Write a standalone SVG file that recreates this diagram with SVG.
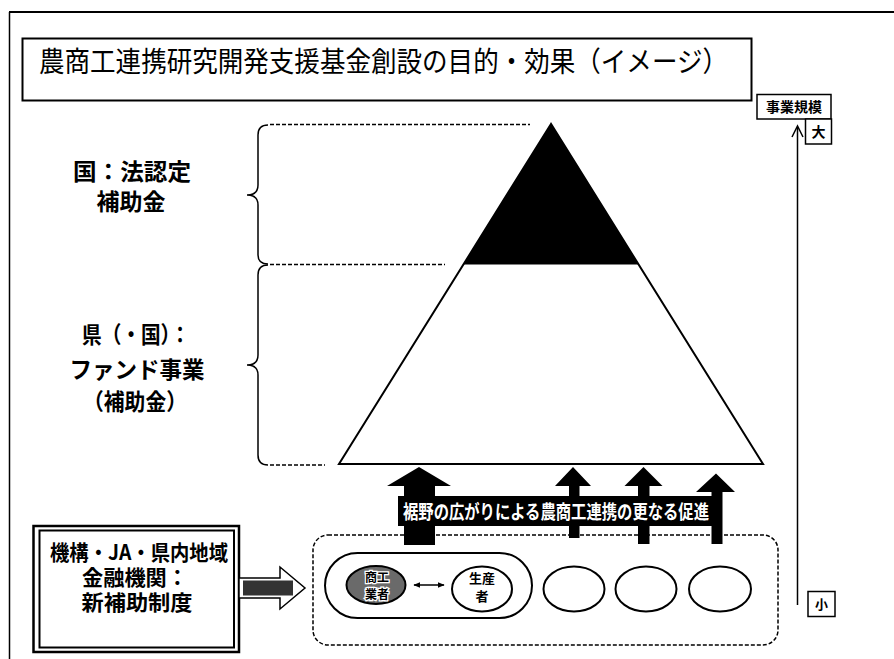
<svg xmlns="http://www.w3.org/2000/svg" width="894" height="659" viewBox="0 0 894 659">
<defs>
<style>
.t{font-family:"Noto Sans CJK JP","Noto Sans",sans-serif;fill:#000}
.b{font-weight:bold}
.ln{fill:none;stroke:#000}
.dash{fill:none;stroke:#000;stroke-width:1.5;stroke-dasharray:4 2}
.up{fill:#000;stroke:none}
</style>
<marker id="ah" viewBox="0 0 10 10" refX="9" refY="5" markerWidth="7" markerHeight="7" orient="auto-start-reverse" markerUnits="userSpaceOnUse">
<path d="M0,1 L10,5 L0,9 Z" fill="#000"/>
</marker>
</defs>
<rect width="894" height="659" fill="#fff"/>

<g id="frame">
<path class="ln" d="M9,12 H894" stroke-width="2"/>
<path class="ln" d="M9.5,12 V659" stroke-width="1.5"/>
</g>

<g id="title">
<rect x="22.5" y="38.5" width="729" height="62" fill="#fff" stroke="#000" stroke-width="2"/>
<text class="t" x="39" y="72" font-size="28" textLength="689" lengthAdjust="spacingAndGlyphs">農商工連携研究開発支援基金創設の目的・効果（イメージ）</text>
</g>

<g id="braces">
<path class="ln" stroke-width="1.5" d="M268,125 Q258,125 258,135 L258,185 Q258,195 247,195 Q258,195 258,205 L258,255 Q258,264 268,264"/>
<path class="ln" stroke-width="1.5" d="M268,265 Q258,265 258,275 L258,355 Q258,365 247,365 Q258,365 258,375 L258,455 Q258,465 268,465"/>
<path class="dash" d="M270,124.5 H530"/>
<path class="dash" d="M270,264.5 H445"/>
<path class="dash" d="M270,465 H325"/>
</g>

<g id="label-kuni">
<text class="t b" x="132" y="180" font-size="23" text-anchor="middle" textLength="118" lengthAdjust="spacingAndGlyphs">国：法認定</text>
<text class="t b" x="131" y="210" font-size="23" text-anchor="middle">補助金</text>
</g>

<g id="label-ken">
<text class="t b" x="136" y="343" font-size="23" text-anchor="middle" textLength="108" lengthAdjust="spacingAndGlyphs">県（・国）：</text>
<text class="t b" x="137" y="378" font-size="23" text-anchor="middle" textLength="135" lengthAdjust="spacingAndGlyphs">ファンド事業</text>
<text class="t b" x="135" y="410" font-size="23" text-anchor="middle" textLength="104" lengthAdjust="spacingAndGlyphs">（補助金）</text>
</g>

<g id="pyramid">
<polygon points="551,124 339,464 763,464" fill="#fff" stroke="#000" stroke-width="2"/>
<polygon points="551,124 463.5,264.5 638.5,264.5" fill="#000"/>
</g>

<g id="scale">
<path class="ln" stroke-width="1.5" d="M797.5,127 V605"/>
<path class="ln" stroke-width="1.5" d="M792,137 L797.5,126 L803,137"/>
<rect x="757" y="94.5" width="74" height="24.5" fill="#fff" stroke="#000" stroke-width="1.5"/>
<text class="t b" x="794" y="112" font-size="14" text-anchor="middle">事業規模</text>
<rect x="805.5" y="119" width="26" height="25" fill="#fff" stroke="#000" stroke-width="1.5"/>
<text class="t b" x="818.5" y="136.5" font-size="14" text-anchor="middle">大</text>
<rect x="808" y="591.5" width="27" height="25" fill="#fff" stroke="#000" stroke-width="1.5"/>
<text class="t b" x="821.5" y="609" font-size="13" text-anchor="middle">小</text>
</g>

<g id="group-box">
<rect class="dash" x="313" y="535" width="465" height="110" rx="15" stroke-width="2"/>
</g>

<g id="pill">
<rect x="325" y="553" width="207" height="65" rx="32.5" fill="#fff" stroke="#000" stroke-width="2"/>
</g>

<g id="node-shoko">
<ellipse cx="376" cy="585" rx="29.5" ry="19" fill="#6a6a6a" stroke="#000" stroke-width="2"/>
<text class="t b" x="377" y="582" font-size="12" text-anchor="middle" stroke="#fff" stroke-width="2.5" paint-order="stroke">商工</text>
<text class="t b" x="377" y="599" font-size="12" text-anchor="middle" stroke="#fff" stroke-width="2.5" paint-order="stroke">業者</text>
</g>

<g id="node-seisan">
<ellipse cx="482" cy="589" rx="30" ry="22.5" fill="#fff" stroke="#000" stroke-width="2"/>
<text class="t b" x="482" y="583" font-size="13" text-anchor="middle">生産</text>
<text class="t b" x="482" y="601" font-size="13" text-anchor="middle">者</text>
</g>

<g id="node-e1"><ellipse cx="574" cy="589" rx="30.5" ry="22.5" fill="#fff" stroke="#000" stroke-width="2"/></g>
<g id="node-e2"><ellipse cx="646" cy="589" rx="30.5" ry="22.5" fill="#fff" stroke="#000" stroke-width="2"/></g>
<g id="node-e3"><ellipse cx="720" cy="589" rx="31" ry="22.5" fill="#fff" stroke="#000" stroke-width="2"/></g>

<g id="node-kiko">
<rect x="33.5" y="526" width="205.5" height="126" fill="#fff" stroke="#000" stroke-width="2.5"/>
<rect x="39.5" y="530.5" width="194.5" height="117" fill="none" stroke="#000" stroke-width="2"/>
<text class="t b" x="139" y="560" font-size="21" text-anchor="middle" textLength="178" lengthAdjust="spacingAndGlyphs">機構・JA・県内地域</text>
<text class="t b" x="135" y="585" font-size="21" text-anchor="middle" textLength="106" lengthAdjust="spacingAndGlyphs">金融機関：</text>
<text class="t b" x="137" y="610" font-size="21" text-anchor="middle" textLength="111" lengthAdjust="spacingAndGlyphs">新補助制度</text>
</g>

<g id="connectors">
<polygon points="239,578 280,578 280,567 305,588 280,609 280,598 239,598" fill="#fff" stroke="#000" stroke-width="1.5"/>
<rect x="243" y="580.5" width="50" height="15" fill="#333"/>
<path class="ln" stroke-width="1.5" d="M414,585 H444" marker-start="url(#ah)" marker-end="url(#ah)"/>
<polygon class="up" points="419,467 451,486 435,486 435,545 404,545 404,486 387,486"/>
<polygon class="up" points="573,467 591,486 579.5,486 579.5,538 569,538 569,486 555,486"/>
<polygon class="up" points="643.5,467 662.5,486 649.5,486 649.5,544 638,544 638,486 624.5,486"/>
<polygon class="up" points="716,473.5 735,492 722.5,492 722.5,544 711.5,544 711.5,492 696,492"/>
</g>

<g id="banner">
<rect x="398" y="496" width="317" height="30" fill="#000"/>
<text class="t b" x="556" y="519" font-size="19" fill="#fff" style="fill:#fff" text-anchor="middle" textLength="306" lengthAdjust="spacingAndGlyphs">裾野の広がりによる農商工連携の更なる促進</text>
</g>
</svg>
